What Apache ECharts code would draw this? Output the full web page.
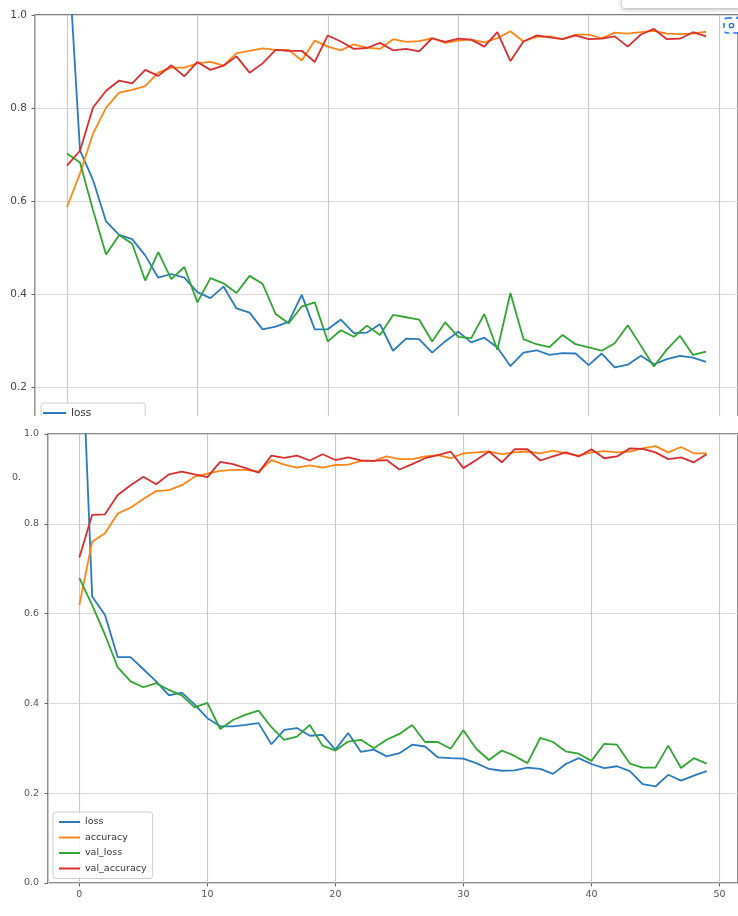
<!DOCTYPE html>
<html><head><meta charset="utf-8">
<script src="https://cdn.jsdelivr.net/npm/echarts@6/dist/echarts.min.js"></script>
<style>html,body{margin:0;padding:0;background:#fff}#c{width:738px;height:916px}</style>
</head><body><div id="c"></div>
<script>
const epochs = [0,1,2,3,4,5,6,7,8,9,10,11,12,13,14,15,16,17,18,19,20,21,22,23,24,25,26,27,28,29,30,31,32,33,34,35,36,37,38,39,40,41,42,43,44,45,46,47,48,49];
const seriesNames = ['loss','accuracy','val_loss','val_accuracy'];

// top (cropped) plot
const topLoss = [1.18,0.709,0.645,0.556,0.527,0.518,0.483,0.435,0.443,0.435,0.404,0.391,0.416,0.369,0.360,0.324,0.330,0.340,0.398,0.324,0.324,0.345,0.316,0.317,0.335,0.278,0.304,0.303,0.274,0.298,0.319,0.296,0.306,0.285,0.245,0.274,0.279,0.269,0.273,0.272,0.247,0.272,0.242,0.248,0.267,0.249,0.260,0.267,0.263,0.254];
const topAcc = [0.587,0.659,0.745,0.801,0.833,0.839,0.847,0.876,0.887,0.887,0.896,0.899,0.891,0.918,0.923,0.928,0.925,0.925,0.902,0.945,0.932,0.924,0.937,0.930,0.927,0.948,0.942,0.944,0.950,0.940,0.945,0.947,0.941,0.950,0.965,0.943,0.953,0.954,0.948,0.958,0.958,0.950,0.962,0.960,0.963,0.966,0.960,0.959,0.960,0.964];
const topValLoss = [0.702,0.683,0.580,0.485,0.527,0.508,0.429,0.490,0.432,0.458,0.382,0.434,0.423,0.402,0.439,0.422,0.357,0.337,0.373,0.382,0.298,0.322,0.308,0.332,0.312,0.355,0.350,0.345,0.298,0.339,0.308,0.305,0.357,0.280,0.402,0.303,0.292,0.286,0.312,0.292,0.285,0.278,0.294,0.333,0.289,0.244,0.281,0.310,0.269,0.276];
const topValAcc = [0.676,0.708,0.801,0.837,0.859,0.853,0.882,0.869,0.892,0.868,0.899,0.882,0.891,0.911,0.876,0.896,0.925,0.923,0.923,0.899,0.956,0.943,0.927,0.929,0.940,0.924,0.927,0.922,0.950,0.942,0.949,0.947,0.932,0.963,0.901,0.943,0.956,0.952,0.948,0.956,0.948,0.949,0.954,0.932,0.958,0.970,0.948,0.949,0.963,0.954];

// bottom plot
const botLoss = [1.35,0.638,0.597,0.503,0.503,0.476,0.449,0.418,0.424,0.398,0.367,0.349,0.349,0.352,0.356,0.309,0.341,0.345,0.328,0.330,0.297,0.334,0.292,0.297,0.282,0.289,0.308,0.304,0.280,0.278,0.277,0.267,0.254,0.250,0.251,0.257,0.254,0.243,0.265,0.278,0.265,0.256,0.260,0.249,0.220,0.215,0.241,0.228,0.239,0.249];
const botAcc = [0.619,0.760,0.779,0.823,0.836,0.855,0.873,0.875,0.886,0.905,0.912,0.918,0.920,0.920,0.916,0.942,0.932,0.925,0.930,0.925,0.931,0.932,0.940,0.940,0.950,0.944,0.944,0.950,0.953,0.946,0.957,0.959,0.961,0.955,0.959,0.961,0.957,0.963,0.957,0.952,0.959,0.962,0.959,0.961,0.968,0.973,0.959,0.971,0.957,0.957];
const botValLoss = [0.679,0.619,0.553,0.480,0.449,0.436,0.445,0.430,0.418,0.391,0.401,0.343,0.363,0.375,0.384,0.347,0.319,0.326,0.352,0.306,0.295,0.315,0.319,0.300,0.319,0.332,0.352,0.314,0.314,0.299,0.340,0.299,0.274,0.295,0.283,0.267,0.323,0.314,0.293,0.288,0.272,0.310,0.308,0.266,0.257,0.257,0.306,0.256,0.278,0.266];
const botValAcc = [0.725,0.820,0.821,0.864,0.886,0.905,0.888,0.910,0.916,0.910,0.904,0.938,0.933,0.924,0.914,0.952,0.947,0.952,0.941,0.955,0.942,0.948,0.941,0.940,0.942,0.921,0.933,0.946,0.953,0.961,0.924,0.942,0.961,0.937,0.966,0.966,0.941,0.950,0.959,0.950,0.966,0.946,0.950,0.968,0.967,0.959,0.944,0.948,0.937,0.955];

const xMin = -2.45, xMax = 51.45;
const yMin = 0, yMax = 1, yStep = 0.2;

const colors = ['#2a7bbd','#ff8616','#30a530','#d82e2f'];
const FONT = 'DejaVu Sans';

function pairs(v){ return epochs.map((e,i)=>[e, v[i]]); }

function mkSeries(arrs, idx, z){
  return arrs.map((a,k)=>({
    name: seriesNames[k], type:'line', xAxisIndex:idx, yAxisIndex:idx,
    data: pairs(a), showSymbol:false, symbol:'none', smooth:false, z:z,
    lineStyle:{color:colors[k], width:1.8}, itemStyle:{color:colors[k]},
    emphasis:{disabled:true}, animation:false
  }));
}

function xAx(idx, show, fs, z){
  return {
    type:'value', gridIndex:idx, min:xMin, max:xMax, splitNumber:5, z:z,
    axisLine:{show:false, onZero:false},
    axisTick:{show:show, length:3.5, lineStyle:{color:'#666', width:1}},
    axisLabel:{show:show, showMinLabel:false, showMaxLabel:false, margin:7, fontSize:fs, color:'#555', fontFamily:FONT,
      formatter:v=>String(Math.round(v))},
    splitLine:{show:true, lineStyle:{color:'#c9c9c9', width:1.2}}
  };
}
function yAx(idx, fs, margin, color, z){
  return {
    type:'value', gridIndex:idx, min:yMin, max:yMax, interval:yStep, z:z,
    axisLine:{show:false, onZero:false},
    axisTick:{show:true, length:3.5, lineStyle:{color:'#666', width:1}},
    axisLabel:{margin:margin, fontSize:fs, color:color, fontFamily:FONT, formatter:v=>v.toFixed(1)},
    splitLine:{show:true, lineStyle:{color:'#d9d9d9', width:1.2}}
  };
}

const chart = echarts.init(document.getElementById('c'), null, {renderer:'canvas'});
chart.setOption({
  animation:false,
  backgroundColor:'#fff',
  grid:[
    {left:35, top:15, width:711.5, height:465, show:true, borderColor:'#555', borderWidth:1.3, backgroundColor:'rgba(0,0,0,0)', z:0},
    {left:48, top:434, width:690, height:449, show:true, borderColor:'#666', borderWidth:1.6, backgroundColor:'rgba(0,0,0,0)', z:11}
  ],
  xAxis:[ xAx(0,false,10.5,0), xAx(1,true,9.5,11) ],
  yAxis:[ yAx(0,10.5,8,'#444',0), yAx(1,9.5,9,'#555',11) ],
  legend:[
    {orient:'vertical', left:41, top:403, data:seriesNames, icon:'rect', itemWidth:23, itemHeight:2, itemGap:3.5,
     padding:[4,6,4,2], backgroundColor:'rgba(255,255,255,0.85)', borderColor:'#ccc', borderWidth:1, borderRadius:3,
     textStyle:{fontSize:10.5, lineHeight:12, color:'#333', fontFamily:FONT}, selectedMode:false, z:4},
    {orient:'vertical', left:53, top:812, data:seriesNames, icon:'rect', itemWidth:21, itemHeight:2, itemGap:3.5,
     padding:[4,6,4,6], backgroundColor:'rgba(255,255,255,0.85)', borderColor:'#ccc', borderWidth:1, borderRadius:3,
     textStyle:{fontSize:9.5, lineHeight:12, color:'#333', fontFamily:FONT}, selectedMode:false, z:13}
  ],
  graphic:[
    {type:'rect', shape:{x:0, y:416, width:738, height:500}, style:{fill:'#fff'}, z:10, silent:true},
    {type:'text', x:12, y:478, style:{text:'0.', fontSize:9.5, fill:'#555', fontFamily:FONT, verticalAlign:'middle'}, z:12, silent:true},
    {type:'rect', shape:{x:622, y:-14, width:140, height:22, r:3}, style:{fill:'#fff', shadowBlur:5, shadowColor:'rgba(0,0,0,0.35)', shadowOffsetY:1}, z:20, silent:true},
    {type:'rect', shape:{x:724, y:18, width:16, height:15, r:3}, style:{fill:'#fff', stroke:'#1a73e8', lineWidth:1.5, lineDash:[5,4]}, z:20, silent:true},
    {type:'circle', shape:{cx:731.5, cy:25.5, r:2.2}, style:{fill:'none', stroke:'#1a73e8', lineWidth:1.3}, z:21, silent:true}
  ],
  series: [].concat(
    mkSeries([topLoss, topAcc, topValLoss, topValAcc], 0, 2),
    mkSeries([botLoss, botAcc, botValLoss, botValAcc], 1, 12)
  )
});
</script>
</body></html>
